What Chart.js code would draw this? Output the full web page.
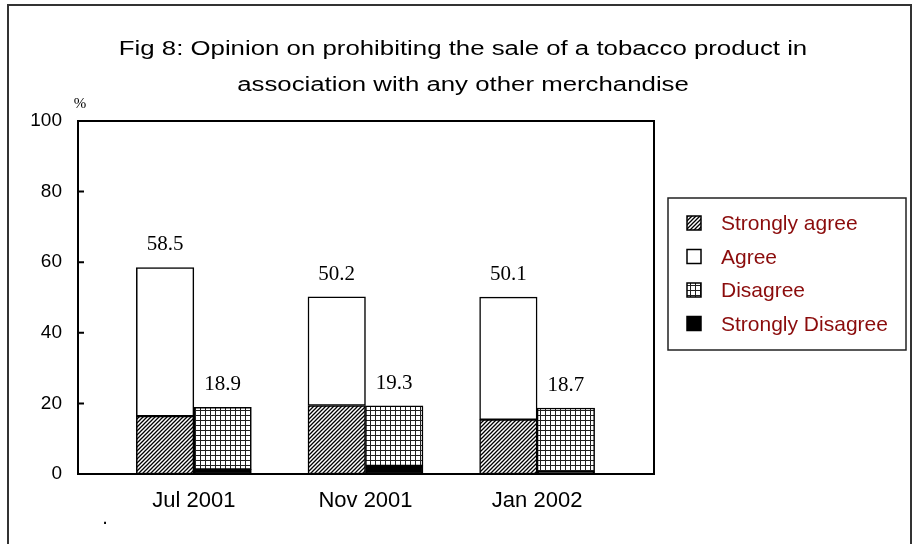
<!DOCTYPE html>
<html>
<head>
<meta charset="utf-8">
<script src="https://cdn.jsdelivr.net/npm/chart.js@4/dist/chart.umd.min.js"></script>
<style>
  html, body { margin: 0; padding: 0; background: #fff; }
  #wrap { width: 913px; height: 544px; }
</style>
</head>
<body>
<div id="wrap"><canvas id="fig8" width="913" height="544"></canvas></div>
<script>
// survey waves
const waves = ['Jul 2001', 'Nov 2001', 'Jan 2002'];

// % of respondents per answer
const stronglyAgree = [16.4, 19.4, 15.4];
const agree = [42.1, 30.8, 34.7];
const disagree = [17.6, 17.0, 18.1];
const stronglyDisagree = [1.3, 2.3, 0.6];

const yTicks = [0, 20, 40, 60, 80, 100];
const titleLines = ['Fig 8: Opinion on prohibiting the sale of a tobacco product in',
                    'association with any other merchandise'];

const SANS = "'Liberation Sans', Arial, sans-serif";
const SERIF = "'Liberation Serif', 'Times New Roman', serif";

// fill patterns
function makePattern(size, draw) {
    let c = document.createElement('canvas');
    c.width = size;
    c.height = size;
    let g = c.getContext('2d');
    g.fillStyle = '#fff';
    g.fillRect(0, 0, size, size);
    draw(g, size);
    return c.getContext('2d').createPattern(c, 'repeat');
}

const hatch = makePattern(4, (g, s) => {
    g.strokeStyle = '#000';
    g.lineWidth = 1.3;
    g.beginPath();
    g.moveTo(0, s); g.lineTo(s, 0);
    g.moveTo(-1, 1); g.lineTo(1, -1);
    g.moveTo(s - 1, s + 1); g.lineTo(s + 1, s - 1);
    g.stroke();
});

const grid = makePattern(5, (g, s) => {
    g.fillStyle = '#222';
    g.fillRect(0, 0, s, 1);
    g.fillRect(0, 0, 1, s);
});

function toPoints(arr) {
    return arr.map((v, i) => ({ x: i, y: v }));
}

const datasets = [
    { label: 'Strongly agree', data: toPoints(stronglyAgree), stack: 'agree', backgroundColor: hatch },
    { label: 'Agree', data: toPoints(agree), stack: 'agree', backgroundColor: '#fff' },
    { label: 'Strongly Disagree', data: toPoints(stronglyDisagree), stack: 'disagree', backgroundColor: '#000' },
    { label: 'Disagree', data: toPoints(disagree), stack: 'disagree', backgroundColor: grid },
];
datasets.forEach(d => {
    d.borderColor = '#000';
    d.borderWidth = 1.5;
    d.borderSkipped = false;
    d.barThickness = 57.5;
});

const legendOrder = ['Strongly agree', 'Agree', 'Disagree', 'Strongly Disagree'];

// page frame, title and loose text
const decorPlugin = {
    id: 'decor',
    beforeDraw(chart) {
        let ctx = chart.ctx;
        ctx.save();
        ctx.fillStyle = '#fff';
        ctx.fillRect(0, 0, chart.width, chart.height);
        ctx.strokeStyle = '#333';
        ctx.lineWidth = 2;
        ctx.strokeRect(8, 5, 903, 600);

        // title is set wide, stretch it horizontally
        ctx.fillStyle = '#000';
        ctx.font = '20px ' + SANS;
        ctx.textAlign = 'center';
        ctx.textBaseline = 'alphabetic';
        titleLines.forEach((line, i) => {
            ctx.save();
            ctx.translate(463, 55 + i * 36);
            ctx.scale(1.29, 1);
            ctx.fillText(line, 0, 0);
            ctx.restore();
        });

        ctx.font = '15px ' + SERIF;
        ctx.fillText('%', 80, 108);
        ctx.font = '20px ' + SANS;
        ctx.fillText('.', 105, 524);
        ctx.restore();
    },
    afterDatasetsDraw(chart) {
        let ctx = chart.ctx;
        let area = chart.chartArea;
        let y = chart.scales.y;
        ctx.save();

        // plot frame with inward ticks
        ctx.strokeStyle = '#000';
        ctx.lineWidth = 2;
        ctx.strokeRect(area.left, area.top, area.right - area.left, area.bottom - area.top);
        ctx.beginPath();
        yTicks.forEach(t => {
            let py = y.getPixelForValue(t);
            ctx.moveTo(area.left, py);
            ctx.lineTo(area.left + 6, py);
        });
        ctx.stroke();

        // totals above each stack
        ctx.fillStyle = '#000';
        ctx.font = '21px ' + SERIF;
        ctx.textAlign = 'center';
        ctx.textBaseline = 'alphabetic';
        ['agree', 'disagree'].forEach(stack => {
            let idx = chart.data.datasets.map((d, i) => i).filter(i => chart.data.datasets[i].stack === stack);
            let topMeta = chart.getDatasetMeta(idx[idx.length - 1]);
            waves.forEach((w, j) => {
                let total = idx.reduce((s, i) => s + chart.data.datasets[i].data[j].y, 0);
                let bar = topMeta.data[j];
                ctx.fillText(total.toFixed(1), bar.x, bar.y - 17);
            });
        });

        // legend box
        ctx.strokeStyle = '#222';
        ctx.lineWidth = 1.5;
        ctx.strokeRect(668, 198, 238, 152);
        ctx.font = '21px ' + SANS;
        ctx.textAlign = 'left';
        legendOrder.forEach((name, i) => {
            let ds = chart.data.datasets.find(d => d.label === name);
            let cy = 223 + i * 33.5;
            ctx.fillStyle = ds.backgroundColor;
            ctx.fillRect(687, cy - 7, 14, 14);
            ctx.strokeStyle = '#000';
            ctx.lineWidth = 1.5;
            ctx.strokeRect(687, cy - 7, 14, 14);
            ctx.fillStyle = '#8b0c0c';
            ctx.fillText(name, 721, cy + 7);
        });
        ctx.restore();
    }
};

new Chart(document.getElementById('fig8'), {
    type: 'bar',
    data: { datasets: datasets },
    plugins: [decorPlugin],
    options: {
        responsive: false,
        animation: false,
        layout: { padding: { left: 0, top: 121, right: 259, bottom: 0 } },
        plugins: {
            legend: { display: false },
            title: { display: false },
            tooltip: { enabled: false },
        },
        scales: {
            x: {
                type: 'linear',
                stacked: true,
                offset: false,
                min: -0.675,
                max: 2.681,
                grid: { display: false, drawTicks: false, offset: false },
                border: { display: false },
                afterBuildTicks: scale => {
                    scale.ticks = waves.map((w, i) => ({ value: i }));
                },
                afterFit: scale => { scale.height = 70; },
                ticks: {
                    callback: v => waves[v],
                    autoSkip: false,
                    maxRotation: 0,
                    padding: 14,
                    color: '#000',
                    font: { family: SANS, size: 22 },
                },
            },
            y: {
                stacked: true,
                min: 0,
                max: 100,
                grid: { display: false, drawTicks: false },
                border: { display: false },
                afterFit: scale => { scale.width = 78; },
                ticks: {
                    stepSize: 20,
                    padding: 16,
                    color: '#000',
                    font: { family: SANS, size: 19 },
                },
            },
        },
    },
});
</script>
</body>
</html>
